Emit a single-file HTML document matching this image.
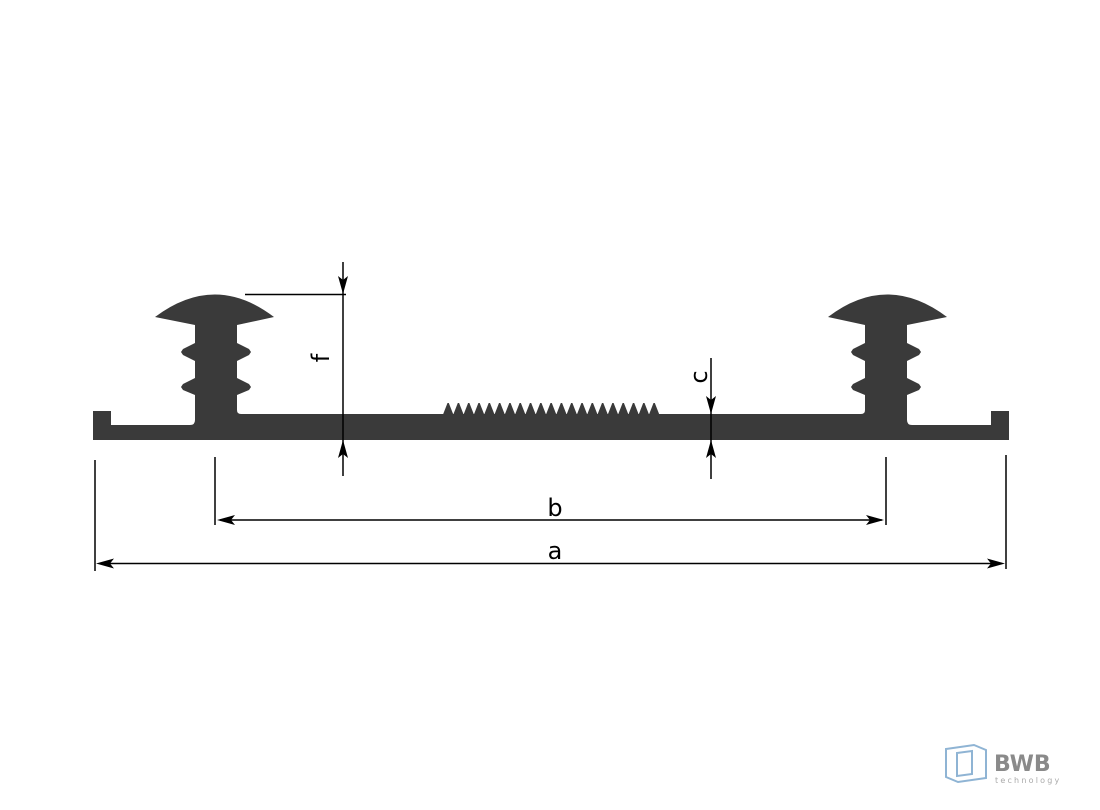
<!DOCTYPE html>
<html><head><meta charset="utf-8"><style>
html,body{margin:0;padding:0;background:#fff;}
svg{display:block;}
</style></head><body>
<svg width="1100" height="810" viewBox="0 0 1100 810" xmlns="http://www.w3.org/2000/svg">
<defs>
<path id="half" fill="#3a3a3a" d="M93,440 L93,411 L111,411 L111,425 L190,425 Q195,425 195,420 L195,395 L183,390 L181,387 L183,384 L195,378 L195,361 L183,355 L181,352 L183,349 L195,343 L195,325 L155,317 Q215,272 274,317 L237,325 L237,343 L249,349 L251,352 L249,355 L237,361 L237,378 L249,384 L251,387 L249,390 L237,395 L237,410 Q237,414 241,414 L552,414 L552,440 Z"/>
</defs>
<use href="#half"/>
<use href="#half" transform="translate(1102,0) scale(-1,1)"/>
<path fill="#3a3a3a" d="M443,414.5 l4.5,-11.5 l1.3,0 l4.5,11.5 l4.5,-11.5 l1.3,0 l4.5,11.5 l4.5,-11.5 l1.3,0 l4.5,11.5 l4.5,-11.5 l1.3,0 l4.5,11.5 l4.5,-11.5 l1.3,0 l4.5,11.5 l4.5,-11.5 l1.3,0 l4.5,11.5 l4.5,-11.5 l1.3,0 l4.5,11.5 l4.5,-11.5 l1.3,0 l4.5,11.5 l4.5,-11.5 l1.3,0 l4.5,11.5 l4.5,-11.5 l1.3,0 l4.5,11.5 l4.5,-11.5 l1.3,0 l4.5,11.5 l4.5,-11.5 l1.3,0 l4.5,11.5 l4.5,-11.5 l1.3,0 l4.5,11.5 l4.5,-11.5 l1.3,0 l4.5,11.5 l4.5,-11.5 l1.3,0 l4.5,11.5 l4.5,-11.5 l1.3,0 l4.5,11.5 l4.5,-11.5 l1.3,0 l4.5,11.5 l4.5,-11.5 l1.3,0 l4.5,11.5 l4.5,-11.5 l1.3,0 l4.5,11.5 l4.5,-11.5 l1.3,0 l4.5,11.5 l4.5,-11.5 l1.3,0 l4.5,11.5 Z"/>
<g stroke="#000" stroke-width="1.5" fill="none">
<line x1="343" y1="262" x2="343" y2="476"/>
<line x1="245" y1="294.5" x2="346" y2="294.5"/>
<line x1="711" y1="358" x2="711" y2="479"/>
<line x1="215" y1="457" x2="215" y2="525"/>
<line x1="886" y1="457" x2="886" y2="525"/>
<line x1="95" y1="460" x2="95" y2="571"/>
<line x1="1006" y1="455" x2="1006" y2="569"/>
<line x1="220" y1="520" x2="882" y2="520"/>
<line x1="100" y1="563.5" x2="1002" y2="563.5"/>
</g>
<g fill="#000">
<polygon points="343,294 338,276 343,280 348,276"/>
<polygon points="343,440 338,458 343,454 348,458"/>
<polygon points="711,414 706,396 711,400 716,396"/>
<polygon points="711,440 706,458 711,454 716,458"/>
<polygon points="217,520 235,515 231,520 235,525"/>
<polygon points="884,520 866,515 870,520 866,525"/>
<polygon points="96,563.5 114,558.5 110,563.5 114,568.5"/>
<polygon points="1005,563.5 987,558.5 991,563.5 987,568.5"/>
</g>
<g font-family="DejaVu Sans, Liberation Sans, sans-serif" font-size="24" fill="#000">
<text x="555" y="516" text-anchor="middle">b</text>
<text x="555" y="559" text-anchor="middle">a</text>
<text transform="translate(329,358) rotate(-90)" text-anchor="middle">f</text>
<text transform="translate(707,377) rotate(-90)" text-anchor="middle">c</text>
</g>
<g fill="none" stroke="#8fb4d4" stroke-width="2">
<polygon points="946,749 974,745 986,750 986,778 958,782 946,777"/>
<polygon points="957,753 972,751 972,774 957,776"/>
</g>
<text x="994" y="771" font-family="DejaVu Sans, Liberation Sans, sans-serif" font-size="22" font-weight="bold" fill="#8a8a8a">BWB</text>
<text x="995" y="783" font-family="DejaVu Sans, Liberation Sans, sans-serif" font-size="8" letter-spacing="2.2" fill="#aaa">technology</text>
</svg>
</body></html>
